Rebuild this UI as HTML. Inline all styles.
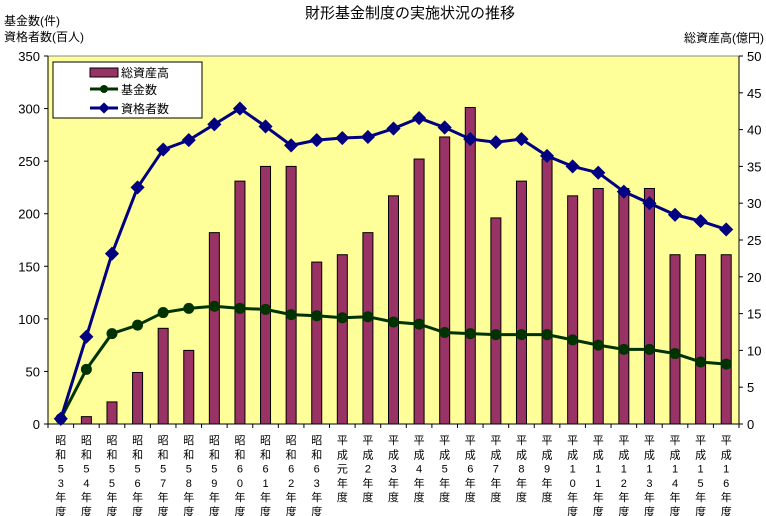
<!DOCTYPE html>
<html><head><meta charset="utf-8"><style>
body{margin:0;background:#fff;width:766px;height:516px;overflow:hidden}
svg{display:block;font-family:"Liberation Sans","Noto Sans CJK JP",sans-serif}
</style></head><body>
<svg id="c" width="766" height="516">
<text x="410" y="18" text-anchor="middle" font-size="15">財形基金制度の実施状況の推移</text>
<text x="4" y="25" font-size="12">基金数(件)</text>
<text x="4" y="41" font-size="12">資格者数(百人)</text>
<text x="764" y="42" text-anchor="end" font-size="12">総資産高(億円)</text>
<rect x="48" y="56" width="691" height="368" fill="#FFFF99" stroke="#888"/>
<g id="g"></g>
<g>
<rect x="53" y="62" width="149" height="56" fill="#fff" stroke="#000"/>
<rect x="90" y="68" width="28" height="9" fill="#993366" stroke="#000"/>
<text x="121" y="77" font-size="12">総資産高</text>
<line x1="90" y1="89" x2="118" y2="89" stroke="#003300" stroke-width="3"/><circle cx="104" cy="89" r="4" fill="#003300"/>
<text x="121" y="94" font-size="12">基金数</text>
<line x1="90" y1="108" x2="118" y2="108" stroke="#000080" stroke-width="3"/><rect x="100" y="104" width="8" height="8" fill="#000080" transform="rotate(45 104 108)"/>
<text x="121" y="113" font-size="12">資格者数</text>
</g>
</svg>
<script>
const categories=[["昭","和","5","3","年","度"],["昭","和","5","4","年","度"],["昭","和","5","5","年","度"],["昭","和","5","6","年","度"],["昭","和","5","7","年","度"],["昭","和","5","8","年","度"],["昭","和","5","9","年","度"],["昭","和","6","0","年","度"],["昭","和","6","1","年","度"],["昭","和","6","2","年","度"],["昭","和","6","3","年","度"],["平","成","元","年","度"],["平","成","2","年","度"],["平","成","3","年","度"],["平","成","4","年","度"],["平","成","5","年","度"],["平","成","6","年","度"],["平","成","7","年","度"],["平","成","8","年","度"],["平","成","9","年","度"],["平","成","1","0","年","度"],["平","成","1","1","年","度"],["平","成","1","2","年","度"],["平","成","1","3","年","度"],["平","成","1","4","年","度"],["平","成","1","5","年","度"],["平","成","1","6","年","度"]];
const assets=[0,1,3,7,13,10,26,33,35,35,22,23,26,31,36,39,43,28,33,36,31,32,32,32,23,23,23];
const funds=[5,52,86,94,106,110,112,110,109,104,103,101,102,97,95,87,86,85,85,85,80,75,71,71,67,59,57];
const eligible=[5,83,162,225,261,270,285,300,283,265,270,272,273,281,291,282,271,268,271,255,245,239,221,210,199,193,185];
const leftTicks=[0,50,100,150,200,250,300,350];
const rightTicks=[0,5,10,15,20,25,30,35,40,45,50];
const X0=48,X1=739,Y0=424,Y1=56,N=categories.length,bw=(X1-X0)/N;
const xc=i=>X0+bw*(i+0.5);
const yl=v=>Y0-(Y0-Y1)*v/350;
const yr=v=>Y0-(Y0-Y1)*v/50;
const g=document.getElementById('g'),NS='http://www.w3.org/2000/svg';
function mk(t,a,p){const e=document.createElementNS(NS,t);for(const k in a)e.setAttribute(k,a[k]);(p||g).appendChild(e);return e;}
leftTicks.forEach(v=>{mk('line',{x1:44,x2:48,y1:yl(v),y2:yl(v),stroke:'#000'});const t=mk('text',{x:40,y:yl(v)+5,'text-anchor':'end','font-size':13});t.textContent=v;

});
rightTicks.forEach(v=>{mk('line',{x1:739,x2:743,y1:yr(v),y2:yr(v),stroke:'#000'});const t=mk('text',{x:747,y:yr(v)+5,'font-size':13});t.textContent=v;

});
mk('line',{x1:48,x2:48,y1:56,y2:424,stroke:'#000'});
mk('line',{x1:739,x2:739,y1:56,y2:424,stroke:'#000'});
mk('line',{x1:48,x2:739,y1:424,y2:424,stroke:'#000'});
for(let i=0;i<=N;i++)mk('line',{x1:X0+bw*i,x2:X0+bw*i,y1:424,y2:428,stroke:'#000'});
assets.forEach((v,i)=>{const r=mk('rect',{x:xc(i)-5,y:yr(v),width:10,height:Y0-yr(v),fill:'#993366',stroke:'#000'});

});
function line(d,col,name,diamond){const p=mk('polyline',{points:d.map((v,i)=>xc(i)+','+yl(v)).join(' '),fill:'none',stroke:col,'stroke-width':3});


d.forEach((v,i)=>{let m;if(diamond)m=mk('rect',{x:xc(i)-5,y:yl(v)-5,width:10,height:10,fill:col,transform:`rotate(45 ${xc(i)} ${yl(v)})`});else m=mk('circle',{cx:xc(i),cy:yl(v),r:5.5,fill:col});

});}
line(funds,'#003300','funds',false);
line(eligible,'#000080','eligible',true);
categories.forEach((c,i)=>{c.forEach((ch,j)=>{const t=mk('text',{x:xc(i),y:444+j*14.3,'text-anchor':'middle','font-size':11});t.textContent=ch;

});});
</script>
</body></html>
